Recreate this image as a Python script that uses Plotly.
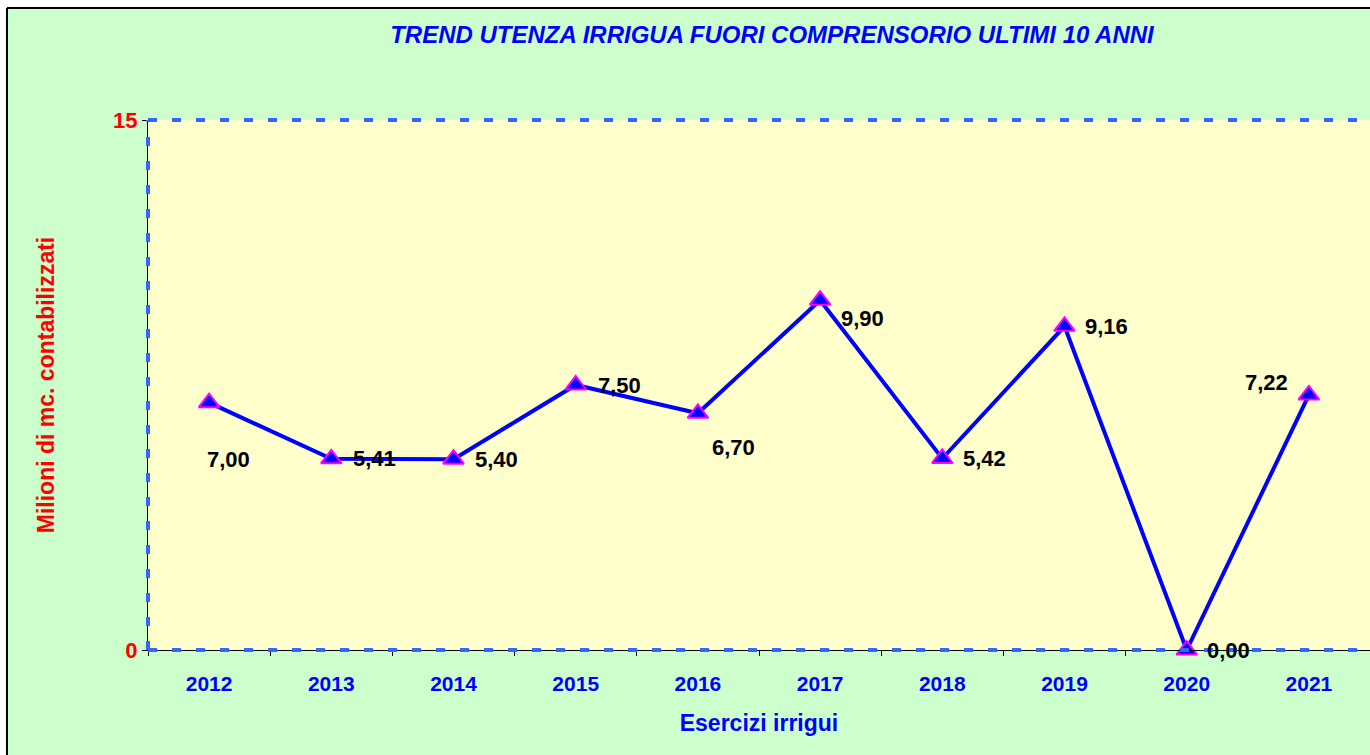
import plotly.graph_objects as go

years = ["2012", "2013", "2014", "2015", "2016", "2017", "2018", "2019", "2020", "2021"]
values = [7.00, 5.41, 5.40, 7.50, 6.70, 9.90, 5.42, 9.16, 0.00, 7.22]
y_ticks = [0, 15]

# label placement (pixel offsets from each point): (xshift, yshift, xanchor)
label_place = [
    (-4, -57, "left"), (20, 0, "left"), (19, 0, "left"), (20, 0, "left"),
    (12, -34, "left"), (19, -18, "left"), (19, 0, "left"), (18, 0, "left"),
    (18, 0, "left"), (-19, 12, "right"),
]

FONT = "Arial, Liberation Sans, sans-serif"
BLUE = "#0000FF"
xpos = list(range(len(years)))

fig = go.Figure()
fig.add_trace(go.Scatter(
    x=xpos, y=values, mode="lines+markers",
    line=dict(color=BLUE, width=4),
    marker=dict(symbol="triangle-up", size=18, color=BLUE,
                line=dict(color="#FF00FF", width=2)),
    cliponaxis=False, customdata=years, hovertemplate="%{customdata}: %{y}<extra></extra>",
    showlegend=False,
))

for xi, v, (dx, dy, xa) in zip(xpos, values, label_place):
    fig.add_annotation(
        x=xi, y=v, text=f"{v:.2f}".replace(".", ","), showarrow=False,
        xanchor=xa, yanchor="middle", xshift=dx, yshift=dy,
        font=dict(family=FONT, size=22, color="black", weight="bold"),
    )

# outer frame: white margins and black border
for s in [
    dict(type="rect", xref="paper", yref="paper", x0=-0.2, x1=1.2, y0=1.2113, y1=1.3,
         fillcolor="white", line=dict(width=0)),
    dict(type="rect", xref="paper", yref="paper", x0=-0.2, x1=-0.1154, y0=-0.3, y1=1.3,
         fillcolor="white", line=dict(width=0)),
    dict(type="line", xref="paper", yref="paper", x0=-0.1154, x1=1.2, y0=1.2113, y1=1.2113,
         line=dict(color="black", width=2)),
    dict(type="line", xref="paper", yref="paper", x0=-0.1154, x1=-0.1154, y0=-0.3, y1=1.2113,
         line=dict(color="black", width=2)),
    # blue dashed plot border
    dict(type="line", xref="paper", yref="paper", x0=0, x1=1, y0=1, y1=1,
         line=dict(color="#3366FF", width=4, dash="9px,15px")),
    dict(type="line", xref="paper", yref="paper", x0=0, x1=1, y0=0, y1=0,
         line=dict(color="#3366FF", width=4, dash="9px,15px")),
    dict(type="line", xref="paper", yref="paper", x0=0, x1=0, y0=0, y1=1,
         line=dict(color="#3366FF", width=4, dash="9px,15px")),
]:
    fig.add_shape(**s)

fig.update_layout(
    width=1370, height=755,
    margin=dict(l=148, r=0, t=120, b=105),
    paper_bgcolor="#CCFFCC", plot_bgcolor="#FFFFCC",
    title=dict(text="<i>TREND UTENZA IRRIGUA FUORI COMPRENSORIO ULTIMI 10 ANNI</i>",
               x=0.5635, xanchor="center", y=1 - 35 / 755, yanchor="middle",
               font=dict(family=FONT, size=24, color=BLUE, weight="bold")),
    xaxis=dict(range=[-0.5, len(years) - 0.5], tickvals=xpos, ticktext=years,
               ticks="", tickangle=0, ticklabelstandoff=15,
               minor=dict(tick0=-0.5, dtick=1, ticks="outside", ticklen=5,
                          tickcolor="black", showgrid=False),
               showline=True, linecolor="black", linewidth=1,
               showgrid=False, zeroline=False,
               tickfont=dict(family=FONT, size=21, color=BLUE, weight="bold"),
               title=dict(text="Esercizi irrigui", standoff=20,
                          font=dict(family=FONT, size=23, color=BLUE, weight="bold"))),
    yaxis=dict(range=[0, 15], tickvals=y_ticks, ticks="outside", ticklen=5,
               tickcolor="black", showline=True, linecolor="black", linewidth=1,
               showgrid=True, gridcolor="#FF99CC", gridwidth=1, zeroline=False,
               tickfont=dict(family=FONT, size=22, color="#FF0000", weight="bold"),
               title=dict(text="Milioni di mc. contabilizzati", standoff=52,
                          font=dict(family=FONT, size=23, color="#FF0000", weight="bold"))),
)

fig.write_html("out.html")
